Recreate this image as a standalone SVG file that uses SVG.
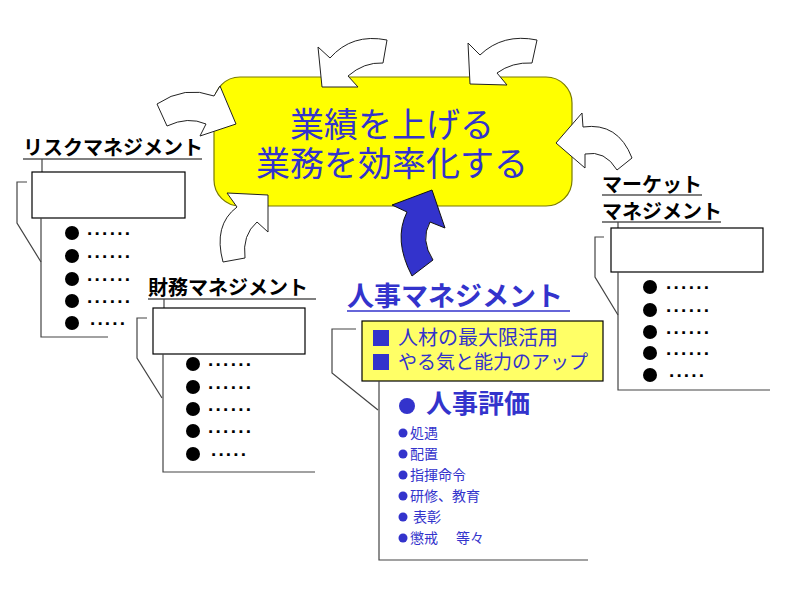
<svg xmlns="http://www.w3.org/2000/svg" width="793" height="595" viewBox="0 0 793 595">
<style>
text{font-family:"Liberation Sans","Noto Sans CJK JP","Noto Sans CJK SC",sans-serif}
.hd{font-size:20px;font-weight:bold;fill:#000}
text.dots{font-family:"Liberation Sans",Arial,sans-serif;font-size:19px;font-weight:bold;fill:#000}
.ul{stroke:#000;stroke-width:1.2}
.ln{stroke:#444;stroke-width:1.2;fill:none}
.box{fill:#fff;stroke:#000;stroke-width:1.2}
.arw{fill:#fff;stroke:#222;stroke-width:1}
.blue{fill:#3333cc}
.sub{font-size:14px;fill:#3333cc}
</style>
<rect width="793" height="595" fill="#fff"/>

<g id="goal">
<rect x="214" y="77" width="358" height="129" rx="26" fill="#ffff00" stroke="#7a7a00" stroke-width="1.2"/>
<text x="392" y="137" font-size="34" text-anchor="middle" class="blue">業績を上げる</text>
<text x="392" y="176" font-size="34" text-anchor="middle" class="blue">業務を効率化する</text>
</g>

<g id="connectors">
<path class="arw" d="M157,104 Q185,85 214,96 L220,86 L236,124 L200,136 L206,124 Q188,116 167,126 Z"/>
<path class="arw" d="M387,40 Q352,33 330,58 L318,47 L322,87 L358,87 L348,76 Q364,62 383,63 Z"/>
<path class="arw" d="M537,40 Q503,33 480,55 L468,43 L470,84 L507,85 L497,73 Q512,62 532,63 Z"/>
<path class="arw" d="M556,143 L582,113 L583,127 Q618,122 632,158 L617,170 Q605,150 585,154 L585,168 Z"/>
<path class="arw" d="M223,262 Q213,225 237,207 L227,193 L268,195 L268,232 L257,222 Q242,235 245,258 Z"/>
<path d="M412,276 Q393,240 407,212 L392,205 L432,190 L445,228 L430,222 Q420,240 433,260 Z" fill="#3333cc" stroke="#111" stroke-width="1"/>
</g>

<g id="risk">
<text x="23" y="155" class="hd">リスクマネジメント</text>
<line x1="23" y1="159" x2="202" y2="159" class="ul"/>
<line x1="42" y1="159" x2="42" y2="172" class="ln"/>
<rect x="32" y="172" width="153" height="46" class="box"/>
<polyline points="27,182 17,182 17,223 41,262" class="ln"/>
<polyline points="41,218 41,337 108,337" class="ln"/>
<g fill="#000">
<circle cx="72" cy="233" r="7"/><circle cx="72" cy="256" r="7"/><circle cx="72" cy="279" r="7"/><circle cx="72" cy="301" r="7"/><circle cx="72" cy="323" r="7"/>
</g>
<text x="87" y="235" class="dots" textLength="43" lengthAdjust="spacing">......</text>
<text x="87" y="258" class="dots" textLength="43" lengthAdjust="spacing">......</text>
<text x="87" y="281" class="dots" textLength="43" lengthAdjust="spacing">......</text>
<text x="87" y="303" class="dots" textLength="43" lengthAdjust="spacing">......</text>
<text x="90" y="325" class="dots" textLength="35" lengthAdjust="spacing">.....</text>
</g>

<g id="finance">
<text x="148" y="295" class="hd">財務マネジメント</text>
<line x1="148" y1="299" x2="316" y2="299" class="ul"/>
<line x1="164" y1="299" x2="164" y2="308" class="ln"/>
<rect x="153" y="308" width="152" height="46" class="box"/>
<polyline points="147,318 137,318 137,358 162,398" class="ln"/>
<polyline points="163,354 163,472 315,472" class="ln"/>
<g fill="#000">
<circle cx="193" cy="364" r="7"/><circle cx="193" cy="387" r="7"/><circle cx="193" cy="409" r="7"/><circle cx="193" cy="431" r="7"/><circle cx="193" cy="454" r="7"/>
</g>
<text x="208" y="366" class="dots" textLength="43" lengthAdjust="spacing">......</text>
<text x="208" y="389" class="dots" textLength="43" lengthAdjust="spacing">......</text>
<text x="208" y="411" class="dots" textLength="43" lengthAdjust="spacing">......</text>
<text x="208" y="433" class="dots" textLength="43" lengthAdjust="spacing">......</text>
<text x="211" y="456" class="dots" textLength="35" lengthAdjust="spacing">.....</text>
</g>

<g id="market">
<text x="602" y="192" class="hd">マーケット</text>
<line x1="602" y1="195" x2="702" y2="195" class="ul"/>
<text x="602" y="219" class="hd">マネジメント</text>
<line x1="602" y1="222" x2="721" y2="222" class="ul"/>
<line x1="618" y1="222" x2="618" y2="228" class="ln"/>
<rect x="611" y="228" width="152" height="44" class="box"/>
<polyline points="604,237 595,237 595,277 618,315" class="ln"/>
<polyline points="618,272 618,390 770,390" class="ln"/>
<g fill="#000">
<circle cx="650" cy="287" r="7"/><circle cx="650" cy="310" r="7"/><circle cx="650" cy="332" r="7"/><circle cx="650" cy="353" r="7"/><circle cx="650" cy="375" r="7"/>
</g>
<text x="666" y="289" class="dots" textLength="43" lengthAdjust="spacing">......</text>
<text x="666" y="312" class="dots" textLength="43" lengthAdjust="spacing">......</text>
<text x="666" y="334" class="dots" textLength="43" lengthAdjust="spacing">......</text>
<text x="666" y="355" class="dots" textLength="43" lengthAdjust="spacing">......</text>
<text x="669" y="377" class="dots" textLength="35" lengthAdjust="spacing">.....</text>
</g>

<g id="hr">
<text x="347" y="306" font-size="27" font-weight="bold" class="blue">人事マネジメント</text>
<line x1="347" y1="311" x2="570" y2="311" stroke="#3333cc" stroke-width="1.5"/>
<rect x="362" y="321" width="241" height="60" fill="#ffff66" stroke="#000" stroke-width="1.2"/>
<rect x="373" y="330" width="16" height="16" fill="#3333cc"/>
<rect x="373" y="354" width="16" height="16" fill="#3333cc"/>
<text x="398" y="345" font-size="20" class="blue">人材の最大限活用</text>
<text x="398" y="369" font-size="19" class="blue">やる気と能力のアップ</text>
<polyline points="356,329 332,329 332,373 378,410" class="ln"/>
<polyline points="379,381 379,560 588,560" class="ln"/>
<circle cx="407" cy="406" r="8" fill="#3333cc"/>
<text x="426" y="413" font-size="26" font-weight="bold" class="blue">人事評価</text>
<g fill="#3333cc">
<circle cx="403" cy="433" r="4.5"/><circle cx="403" cy="454" r="4.5"/><circle cx="403" cy="475" r="4.5"/><circle cx="403" cy="496" r="4.5"/><circle cx="403" cy="517" r="4.5"/><circle cx="403" cy="538" r="4.5"/>
</g>
<text x="410" y="438" class="sub">処遇</text>
<text x="410" y="459" class="sub">配置</text>
<text x="410" y="480" class="sub">指揮命令</text>
<text x="410" y="501" class="sub">研修、教育</text>
<text x="413" y="522" class="sub">表彰</text>
<text x="410" y="543" class="sub" xml:space="preserve">懲戒　 等々</text>
</g>
</svg>
